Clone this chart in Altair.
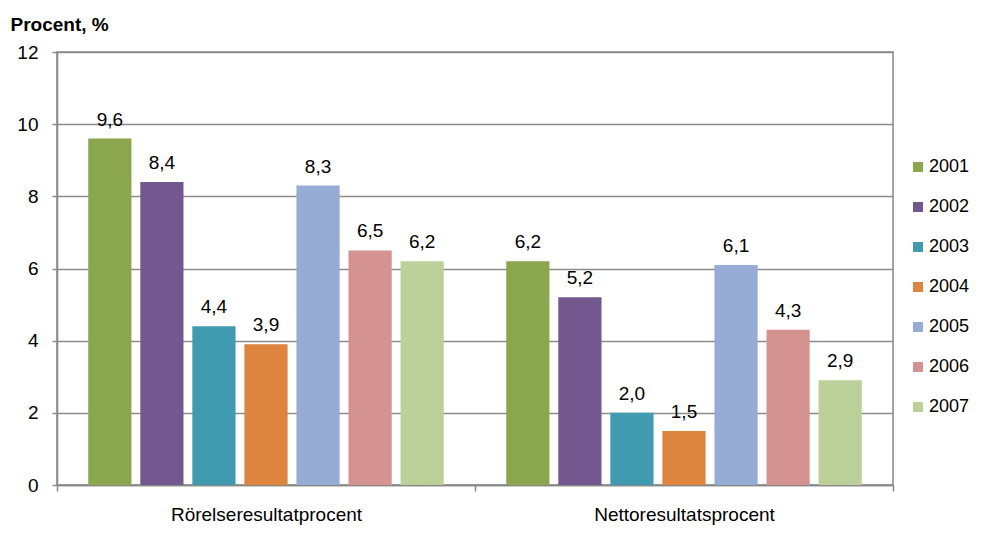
import altair as alt
import pandas as pd

categories = ["Rörelseresultatprocent", "Nettoresultatsprocent"]
years = ["2001", "2002", "2003", "2004", "2005", "2006", "2007"]
rorelse = [9.6, 8.4, 4.4, 3.9, 8.3, 6.5, 6.2]
netto = [6.2, 5.2, 2.0, 1.5, 6.1, 4.3, 2.9]
colors = ["#8BA74E", "#73588F", "#419BB0", "#DD843F", "#96ACD4", "#D49391", "#BCD19A"]

rows = []
for cat, vals in zip(categories, [rorelse, netto]):
    for y, v in zip(years, vals):
        rows.append({"kategori": cat, "år": y, "värde": v,
                     "etikett": f"{v:.1f}".replace(".", ",")})
df = pd.DataFrame(rows)

FONT = "Liberation Sans"

base = alt.Chart(df).encode(
    x=alt.X("kategori:N", sort=categories,
            scale=alt.Scale(paddingInner=0, paddingOuter=0),
            axis=alt.Axis(title=None, labelAngle=0, tickBand="extent", tickSize=6,
                          labelPadding=14, labelFontSize=19, labelFont=FONT,
                          labelLimit=400,
                          labelColor="#000000", domainColor="#888888", tickColor="#888888",
                          grid=False, domainWidth=1.5, tickWidth=1.5)),
    xOffset=alt.XOffset("år:N", sort=years,
                        scale=alt.Scale(paddingInner=0.17, paddingOuter=0.6)),
)

bars = base.mark_bar().encode(
    y=alt.Y("värde:Q", scale=alt.Scale(domain=[0, 12]),
            axis=alt.Axis(title="Procent, %", titleAngle=0, titleAlign="left",
                          titleBaseline="alphabetic", titleX=-47, titleY=-22,
                          titleFont=FONT, titleFontSize=19, titleFontWeight="bold",
                          titleColor="#000000",
                          values=[0, 2, 4, 6, 8, 10, 12], tickSize=5, labelPadding=14,
                          labelFontSize=19, labelFont=FONT, labelColor="#000000",
                          gridColor="#8c8c8c", gridWidth=1.5, domainColor="#888888",
                          tickColor="#888888", domainWidth=1.5, tickWidth=1.5)),
    color=alt.Color("år:N", sort=years,
                    scale=alt.Scale(domain=years, range=colors),
                    legend=alt.Legend(title=None, orient="none", legendX=852, legendY=106,
                                      symbolType="square", symbolSize=100,
                                      symbolStrokeWidth=0, labelFont=FONT,
                                      labelFontSize=18, labelColor="#000000",
                                      rowPadding=22, labelOffset=2)),
)

labels = base.mark_text(baseline="bottom", dy=-9, font=FONT, fontSize=19,
                        color="#000000").encode(
    y=alt.Y("värde:Q"),
    text="etikett:N",
)

chart = (bars + labels).properties(
    width=836, height=433,
    autosize=alt.AutoSizeParams(type="none"),
    padding={"left": 49, "top": 44, "right": 80, "bottom": 41},
    background="#ffffff",
).configure_view(stroke="#888888", strokeWidth=1.5)

chart.save("out.html", embed_options={"renderer": "svg", "actions": False})
